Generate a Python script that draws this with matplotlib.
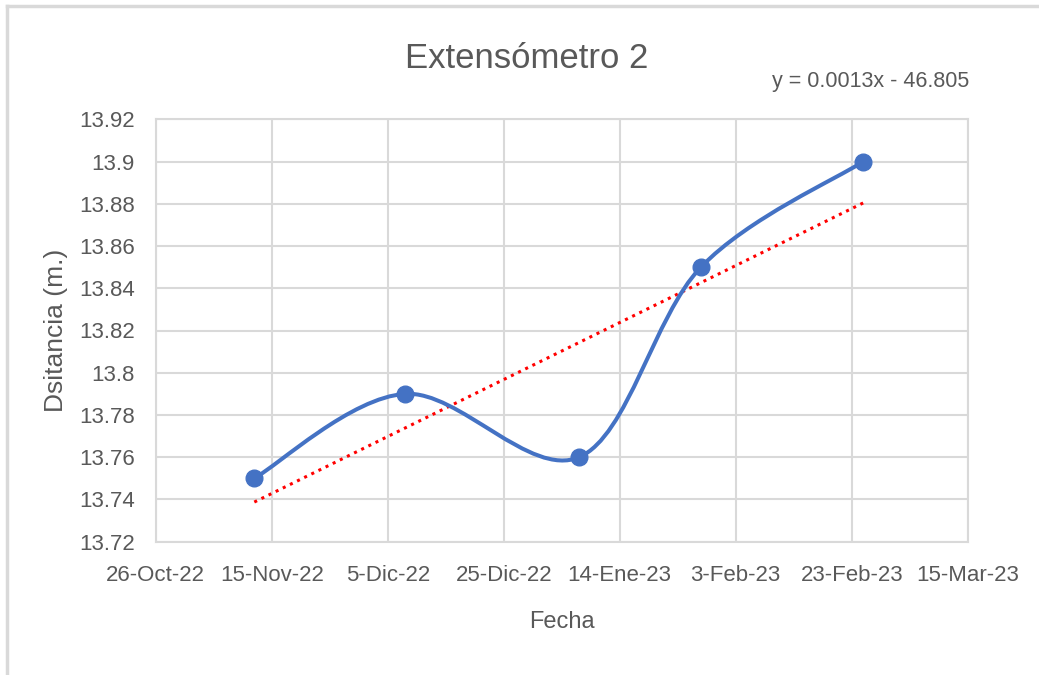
import numpy as np
import matplotlib
matplotlib.use("Agg")
import matplotlib.pyplot as plt
import matplotlib.dates as mdates
from matplotlib.ticker import FuncFormatter
from matplotlib.path import Path
from matplotlib.patches import PathPatch
from matplotlib.lines import Line2D
import datetime as dt

plt.rcParams['font.family'] = ['Liberation Sans', 'DejaVu Sans']

# Measurements
fechas = ["2022-11-12", "2022-12-08", "2023-01-07", "2023-01-28", "2023-02-25"]
distancia = [13.75, 13.79, 13.76, 13.85, 13.90]
meses = ["Ene", "Feb", "Mar", "Abr", "May", "Jun", "Jul", "Ago", "Sep", "Oct", "Nov", "Dic"]
titulo = "Extensómetro 2"
ecuacion = "y = 0.0013x - 46.805"
x_inicio, x_fin = "2022-10-26", "2023-03-15"
y_min, y_max, y_paso = 13.72, 13.92, 0.02

W, H = 1039, 675
fig = plt.figure(figsize=(W / 100, H / 100), dpi=100)
ax = fig.add_axes([155.7 / W, 1 - 541.7 / H, (967.7 - 155.7) / W, (541.7 - 119.3) / H])

xd = mdates.date2num([dt.datetime.fromisoformat(f) for f in fechas])
yd = np.array(distancia)

grid_c = "#d9d9d9"
text_c = "#595959"
blue = "#4472C4"

# Smoothed curve: cubic Bezier segments with Catmull-Rom style control points
pts = np.column_stack([xd, yd])
verts, codes = [pts[0]], [Path.MOVETO]
n = len(pts)
for i in range(n - 1):
    p0 = pts[i - 1] if i > 0 else pts[i]
    p1, p2 = pts[i], pts[i + 1]
    p3 = pts[i + 2] if i + 2 < n else pts[i + 1]
    c1 = p1 + (p2 - p0) / 6.0
    c2 = p2 - (p3 - p1) / 6.0
    verts += [c1, c2, p2]
    codes += [Path.CURVE4] * 3
ax.add_patch(PathPatch(Path(verts, codes), facecolor="none", edgecolor=blue,
                       lw=2.9, capstyle="round", zorder=4))
ax.plot(xd, yd, linestyle="none", marker="o", ms=12, color=blue, zorder=5)

# Linear trend
m, b = np.polyfit(xd, yd, 1)
xt = np.array([xd[0], xd[-1]])
ax.plot(xt, m * xt + b, color="#FF0000", lw=2.2, linestyle=(0, (1, 1.6)), zorder=3)

x0 = mdates.date2num(dt.datetime.fromisoformat(x_inicio))
x1 = mdates.date2num(dt.datetime.fromisoformat(x_fin))
ax.set_xlim(x0, x1)
ax.set_ylim(y_min, y_max)
ax.set_xticks(np.arange(x0, x1 + 1, 20))
ax.set_yticks(np.round(np.arange(y_min, y_max + 1e-9, y_paso), 2))

def fmt_fecha(v, pos):
    d = mdates.num2date(v)
    return f"{d.day}-{meses[d.month - 1]}-{d.strftime('%y')}"

def fmt_num(v, pos):
    return f"{v:.2f}".rstrip("0").rstrip(".")

ax.xaxis.set_major_formatter(FuncFormatter(fmt_fecha))
ax.yaxis.set_major_formatter(FuncFormatter(fmt_num))
ax.grid(True, color=grid_c, lw=1.5)
ax.set_axisbelow(True)
for s in ax.spines.values():
    s.set_color(grid_c)
    s.set_linewidth(1.5)
ax.tick_params(length=0, colors=text_c, labelsize=16)
ax.tick_params(axis="y", pad=15)
ax.tick_params(axis="x", pad=17)

ax.set_ylabel("Dsitancia (m.)", fontsize=19, color=text_c, labelpad=8)
ax.set_xlabel("Fecha", fontsize=17, color=text_c, labelpad=18)

fig.text(527 / W, 1 - 58 / H, titulo, ha="center", va="center", fontsize=25, color=text_c)
fig.text(969 / W, 1 - 81 / H, ecuacion, ha="right", va="center", fontsize=15.5, color=text_c)

# Chart area border
fig.add_artist(Line2D([7 / W, 7 / W], [0, 1 - 6 / H], transform=fig.transFigure,
                      color="#d9d9d9", lw=2.5))
fig.add_artist(Line2D([7 / W, 1], [1 - 6 / H, 1 - 6 / H], transform=fig.transFigure,
                      color="#d9d9d9", lw=2.5))

fig.savefig("out.png", dpi=100, facecolor="white")
